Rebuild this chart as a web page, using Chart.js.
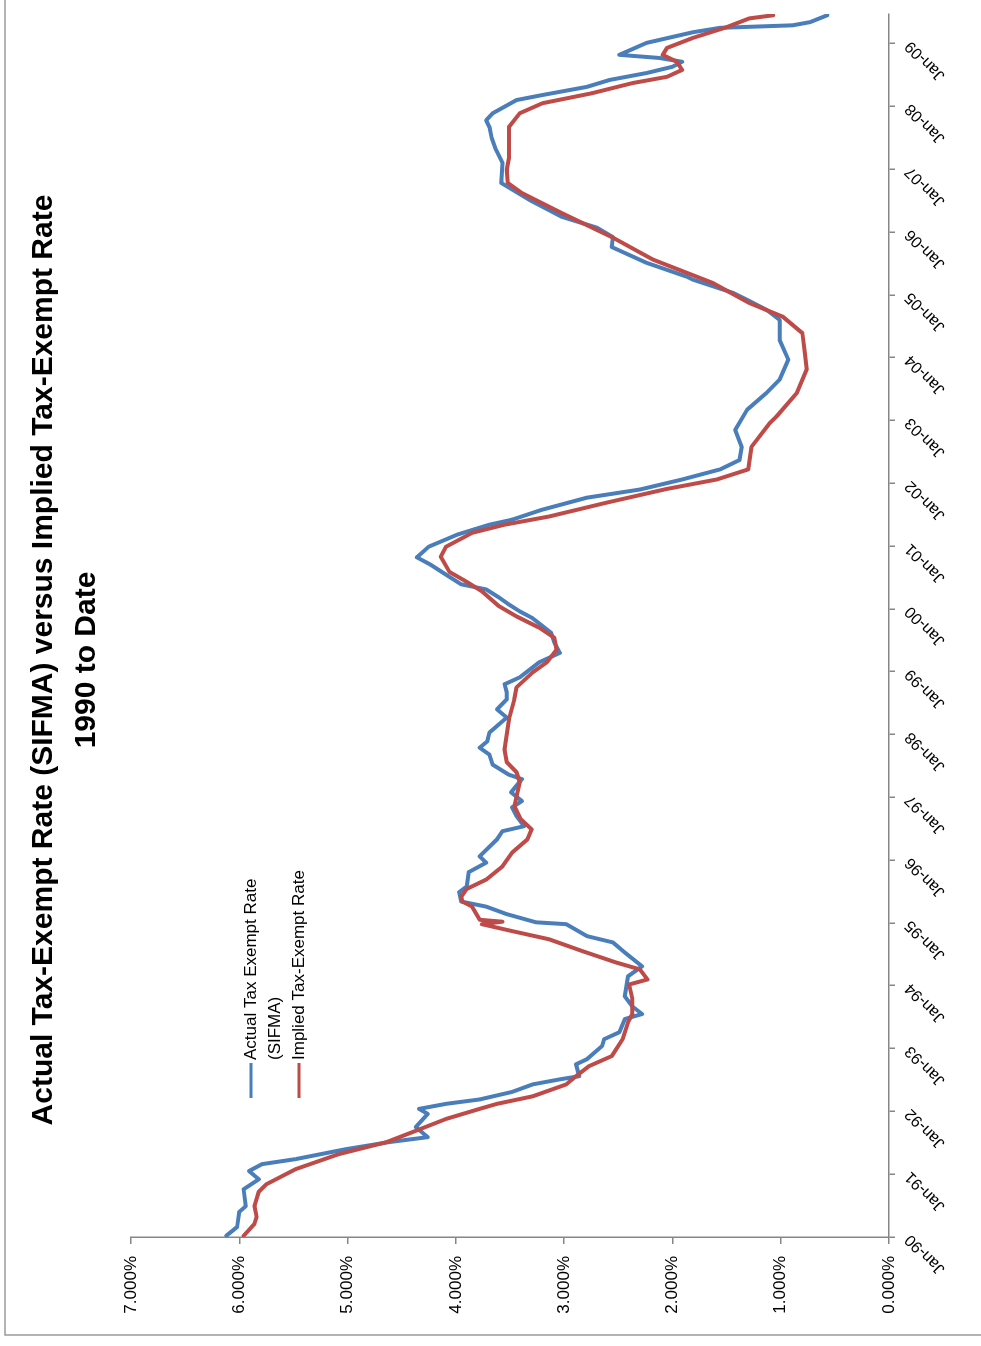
<!DOCTYPE html>
<html>
<head>
<meta charset="utf-8">
<title>Actual vs Implied Tax-Exempt Rate</title>
<script src="https://cdn.jsdelivr.net/npm/chart.js@4.4.1/dist/chart.umd.min.js"></script>
<style>
  html, body { margin: 0; padding: 0; background: #fff; overflow: hidden; }
  body { width: 981px; height: 1346px; position: relative; }
  /* chart is laid out landscape and turned on its side */
  #wrap { position: absolute; left: 0; top: 0; width: 1346px; height: 981px;
          transform-origin: 0 0; transform: translateY(1346px) rotate(-90deg); }
</style>
</head>
<body>
<div id="wrap"><canvas id="rateChart" width="1346" height="981"></canvas></div>
<script>
const titleLines = ['Actual Tax-Exempt Rate (SIFMA) versus Implied Tax-Exempt Rate', '1990 to Date']

const tickYears = [1990, 1991, 1992, 1993, 1994, 1995, 1996, 1997, 1998, 1999,
                   2000, 2001, 2002, 2003, 2004, 2005, 2006, 2007, 2008, 2009]
const tickLabels = ['Jan-90', 'Jan-91', 'Jan-92', 'Jan-93', 'Jan-94', 'Jan-95', 'Jan-96', 'Jan-97', 'Jan-98', 'Jan-99',
                    'Jan-00', 'Jan-01', 'Jan-02', 'Jan-03', 'Jan-04', 'Jan-05', 'Jan-06', 'Jan-07', 'Jan-08', 'Jan-09']
const rateTickLabels = ['0.000%', '1.000%', '2.000%', '3.000%', '4.000%', '5.000%', '6.000%', '7.000%']

// SIFMA swap index (actual tax-exempt rate), % by date in decimal years
const actualYears = [1990.02, 1990.16, 1990.40, 1990.49, 1990.76, 1990.92, 1991.05, 1991.16, 1991.24, 1991.40,
  1991.51, 1991.59, 1991.75, 1991.96, 1992.04, 1992.12, 1992.19, 1992.31, 1992.43, 1992.51,
  1992.56, 1992.75, 1992.83, 1993.04, 1993.15, 1993.26, 1993.47, 1993.55, 1993.67, 1993.83,
  1994.15, 1994.31, 1994.53, 1994.69, 1994.79, 1994.98, 1995.01, 1995.14, 1995.26, 1995.34,
  1995.49, 1995.58, 1995.81, 1995.96, 1996.06, 1996.33, 1996.46, 1996.54, 1996.70, 1996.84,
  1996.94, 1997.08, 1997.29, 1997.36, 1997.52, 1997.68, 1997.79, 1997.89, 1998.03, 1998.27,
  1998.40, 1998.56, 1998.67, 1998.80, 1998.91, 1999.03, 1999.15, 1999.30, 1999.46, 1999.62,
  1999.86, 1999.96, 2000.07, 2000.18, 2000.31, 2000.39, 2000.51, 2000.70, 2000.82, 2000.99,
  2001.18, 2001.34, 2001.42, 2001.58, 2001.77, 2001.90, 2002.06, 2002.22, 2002.37, 2002.58,
  2002.85, 2003.17, 2003.44, 2003.65, 2003.97, 2004.28, 2004.60, 2004.76, 2004.92, 2005.03,
  2005.24, 2005.29, 2005.51, 2005.76, 2005.92, 2006.07, 2006.24, 2006.51, 2006.78, 2007.10,
  2007.31, 2007.50, 2007.67, 2007.78, 2007.89, 2008.10, 2008.18, 2008.31, 2008.42, 2008.53,
  2008.63, 2008.71, 2008.77, 2008.82, 2009.01, 2009.18, 2009.25, 2009.29, 2009.34, 2009.45]
const actualRates = [6.12, 6.02, 6.00, 5.94, 5.96, 5.82, 5.91, 5.79, 5.48, 5.01,
  4.62, 4.26, 4.37, 4.26, 4.34, 4.09, 3.78, 3.48, 3.29, 3.04,
  2.86, 2.89, 2.79, 2.65, 2.63, 2.49, 2.44, 2.28, 2.37, 2.44,
  2.41, 2.28, 2.44, 2.55, 2.79, 2.98, 3.26, 3.53, 3.72, 3.95,
  3.97, 3.90, 3.88, 3.72, 3.78, 3.62, 3.57, 3.37, 3.44, 3.48,
  3.39, 3.49, 3.39, 3.51, 3.66, 3.69, 3.78, 3.71, 3.69, 3.53,
  3.62, 3.53, 3.53, 3.55, 3.41, 3.32, 3.23, 3.04, 3.09, 3.12,
  3.30, 3.41, 3.51, 3.60, 3.72, 3.95, 4.06, 4.23, 4.36, 4.25,
  3.99, 3.69, 3.48, 3.20, 2.79, 2.30, 1.91, 1.56, 1.38, 1.36,
  1.42, 1.31, 1.13, 1.01, 0.93, 1.01, 1.01, 1.13, 1.31, 1.44,
  1.81, 1.87, 2.24, 2.56, 2.55, 2.70, 3.02, 3.32, 3.58, 3.57,
  3.63, 3.67, 3.69, 3.72, 3.66, 3.44, 3.20, 2.79, 2.58, 2.24,
  2.00, 1.91, 2.12, 2.49, 2.24, 1.81, 1.56, 0.89, 0.73, 0.57]

// implied tax-exempt rate, % by date in decimal years
const impliedYears = [1990.02, 1990.21, 1990.32, 1990.49, 1990.72, 1990.84, 1991.08, 1991.32, 1991.51, 1991.67,
  1991.88, 1992.04, 1992.12, 1992.24, 1992.43, 1992.56, 1992.72, 1992.88, 1993.15, 1993.42,
  1993.55, 1993.79, 1994.02, 1994.10, 1994.26, 1994.37, 1994.55, 1994.74, 1994.87, 1994.98,
  1995.02, 1995.05, 1995.26, 1995.34, 1995.42, 1995.54, 1995.69, 1995.90, 1996.12, 1996.33,
  1996.49, 1996.65, 1996.86, 1997.24, 1997.40, 1997.56, 1997.76, 1998.24, 1998.56, 1998.75,
  1998.99, 1999.15, 1999.35, 1999.54, 1999.70, 1999.88, 2000.04, 2000.28, 2000.43, 2000.59,
  2000.83, 2000.99, 2001.21, 2001.34, 2001.47, 2001.69, 2001.91, 2002.06, 2002.22, 2002.58,
  2002.96, 2003.06, 2003.44, 2003.81, 2004.12, 2004.39, 2004.65, 2004.87, 2005.19, 2005.56,
  2005.91, 2006.30, 2006.62, 2006.78, 2006.99, 2007.18, 2007.67, 2007.89, 2008.05, 2008.21,
  2008.37, 2008.47, 2008.58, 2008.71, 2008.82, 2008.93, 2009.09, 2009.26, 2009.40, 2009.45]
const impliedRates = [5.96, 5.86, 5.84, 5.86, 5.82, 5.75, 5.48, 5.08, 4.64, 4.40,
  4.09, 3.78, 3.62, 3.29, 2.98, 2.89, 2.77, 2.56, 2.46, 2.41,
  2.37, 2.37, 2.40, 2.23, 2.30, 2.52, 2.83, 3.14, 3.48, 3.76,
  3.57, 3.78, 3.85, 3.94, 3.95, 3.90, 3.72, 3.57, 3.48, 3.34,
  3.30, 3.40, 3.46, 3.41, 3.44, 3.53, 3.55, 3.51, 3.46, 3.44,
  3.29, 3.16, 3.07, 3.09, 3.23, 3.44, 3.60, 3.76, 3.90, 4.06,
  4.14, 4.09, 3.85, 3.55, 3.14, 2.61, 2.05, 1.59, 1.30, 1.27,
  1.10, 1.04, 0.85, 0.76, 0.78, 0.80, 0.98, 1.29, 1.63, 2.18,
  2.55, 3.02, 3.39, 3.52, 3.53, 3.51, 3.51, 3.41, 3.20, 2.74,
  2.37, 2.05, 1.91, 1.96, 2.09, 2.05, 1.81, 1.50, 1.29, 1.07]

const legendLines = [['Actual Tax Exempt Rate', '(SIFMA)'], ['Implied Tax-Exempt Rate']]
const seriesColors = ['#4a7ebb', '#be4b48']

const toPoints = (xs, ys) => xs.map((x, i) => ({ x: x, y: ys[i] }))

// frame, title and the hand drawn legend
const chartDecor = {
  id: 'chartDecor',
  beforeDraw(chart) {
    const ctx = chart.ctx
    ctx.save()
    ctx.strokeStyle = '#9a9a9a'
    ctx.lineWidth = 1.5
    ctx.beginPath()
    ctx.moveTo(11, chart.height)
    ctx.lineTo(11, 5)
    ctx.lineTo(chart.width, 5)
    ctx.stroke()
    ctx.restore()
  },
  afterDraw(chart) {
    const ctx = chart.ctx
    const area = chart.chartArea
    ctx.save()
    ctx.fillStyle = '#000'
    ctx.textAlign = 'center'
    ctx.textBaseline = 'middle'
    ctx.font = 'bold 30px "Liberation Sans", Arial, sans-serif'
    titleLines.forEach((t, i) => ctx.fillText(t, 686, 44 + i * 43))

    ctx.font = '17px "Liberation Sans", Arial, sans-serif'
    ctx.textAlign = 'left'
    let y = area.top + 120
    const x = area.left + 139
    legendLines.forEach((lines, i) => {
      ctx.strokeStyle = seriesColors[i]
      ctx.lineWidth = 3
      ctx.beginPath()
      ctx.moveTo(x, y)
      ctx.lineTo(x + 35, y)
      ctx.stroke()
      lines.forEach(line => {
        ctx.fillText(line, x + 38, y)
        y += 24
      })
    })
    ctx.restore()
  }
}

const axisGray = '#868686'

new Chart(document.getElementById('rateChart'), {
  type: 'line',
  data: {
    datasets: [
      {
        label: 'Actual Tax Exempt Rate (SIFMA)',
        data: toPoints(actualYears, actualRates),
        borderColor: seriesColors[0],
        borderWidth: 4,
        borderJoinStyle: 'round',
        borderCapStyle: 'round',
        pointRadius: 0,
        tension: 0,
        order: 1
      },
      {
        label: 'Implied Tax-Exempt Rate',
        data: toPoints(impliedYears, impliedRates),
        borderColor: seriesColors[1],
        borderWidth: 4,
        borderJoinStyle: 'round',
        borderCapStyle: 'round',
        pointRadius: 0,
        tension: 0,
        order: 0
      }
    ]
  },
  options: {
    responsive: false,
    animation: false,
    layout: { padding: { top: 131, right: 14, left: 0, bottom: 0 } },
    plugins: {
      legend: { display: false },
      title: { display: false },
      tooltip: { enabled: false }
    },
    scales: {
      x: {
        type: 'linear',
        min: 1990,
        max: 2009.47,
        afterBuildTicks: scale => { scale.ticks = tickYears.map(v => ({ value: v })) },
        afterFit: scale => { scale.height = 92 },
        border: { color: axisGray, width: 1.5 },
        grid: { drawOnChartArea: false, tickLength: 6, color: axisGray, lineWidth: 1.5 },
        ticks: {
          autoSkip: false,
          minRotation: 45,
          maxRotation: 45,
          padding: 6,
          color: '#000',
          font: { family: '"Liberation Sans", Arial, sans-serif', size: 16 },
          callback: (v, i) => tickLabels[i]
        }
      },
      y: {
        min: 0,
        max: 7,
        afterFit: scale => { scale.width = 109 },
        border: { color: axisGray, width: 1.5 },
        grid: { drawOnChartArea: false, tickLength: 7, color: axisGray, lineWidth: 1.5 },
        ticks: {
          stepSize: 1,
          padding: 12,
          color: '#000',
          font: { family: '"Liberation Sans", Arial, sans-serif', size: 17 },
          callback: (v, i) => rateTickLabels[i]
        }
      }
    }
  },
  plugins: [chartDecor]
})
</script>
</body>
</html>
